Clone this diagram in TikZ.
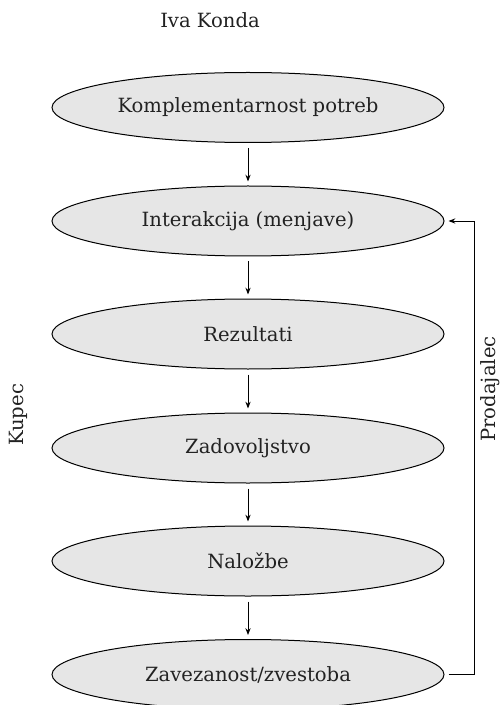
\documentclass[tikz,border=0pt]{standalone}
\usepackage{fontspec}
\setmainfont{DejaVu Serif}
\usetikzlibrary{shapes.geometric,arrows.meta}
\definecolor{ellfill}{HTML}{E6E6E6}
\definecolor{txt}{HTML}{222222}
\tikzset{
  stage/.style={ellipse, draw=black, line width=0.5pt, fill=ellfill,
    minimum width=196pt, minimum height=35pt, inner sep=0pt,
    font=\fontsize{9.8}{11}\selectfont, text=txt},
  lbl/.style={font=\fontsize{9.8}{11}\selectfont, text=txt},
  arr/.style={line width=0.45pt, -{Stealth[length=3.4pt,width=2.6pt]}},
}
\begin{document}
\begin{tikzpicture}[x=0.5pt,y=-0.5pt]
\useasboundingbox (0,0) rectangle (502,705);
\node[lbl] (author) at (210,20) {Iva Konda};
\node[stage] (s1) at (248,107.5) {Komplementarnost potreb};
\node[stage] (s2) at (248,221) {Interakcija (menjave)};
\node[stage] (s3) at (248,334) {Rezultati};
\node[stage] (s4) at (248,448) {Zadovoljstvo};
\node[stage] (s5) at (248,561) {Naložbe};
\node[stage] (s6) at (248,674.5) {Zavezanost/zvestoba};
\node[lbl, rotate=90] (kupec) at (18,415) {Kupec};
\node[lbl, rotate=90] (prod) at (490,389) {Prodajalec};
\draw[arr, shorten <=2.5pt, shorten >=2pt] (s1) -- (s2);
\draw[arr, shorten <=2.5pt, shorten >=2pt] (s2) -- (s3);
\draw[arr, shorten <=2.5pt, shorten >=2pt] (s3) -- (s4);
\draw[arr, shorten <=2.5pt, shorten >=2pt] (s4) -- (s5);
\draw[arr, shorten <=2.5pt, shorten >=2pt] (s5) -- (s6);
\coordinate (fb) at (474,448);
\draw[arr] ([xshift=2pt]s6.east) -| (fb) |- ([xshift=2pt]s2.east);
\end{tikzpicture}
\end{document}
